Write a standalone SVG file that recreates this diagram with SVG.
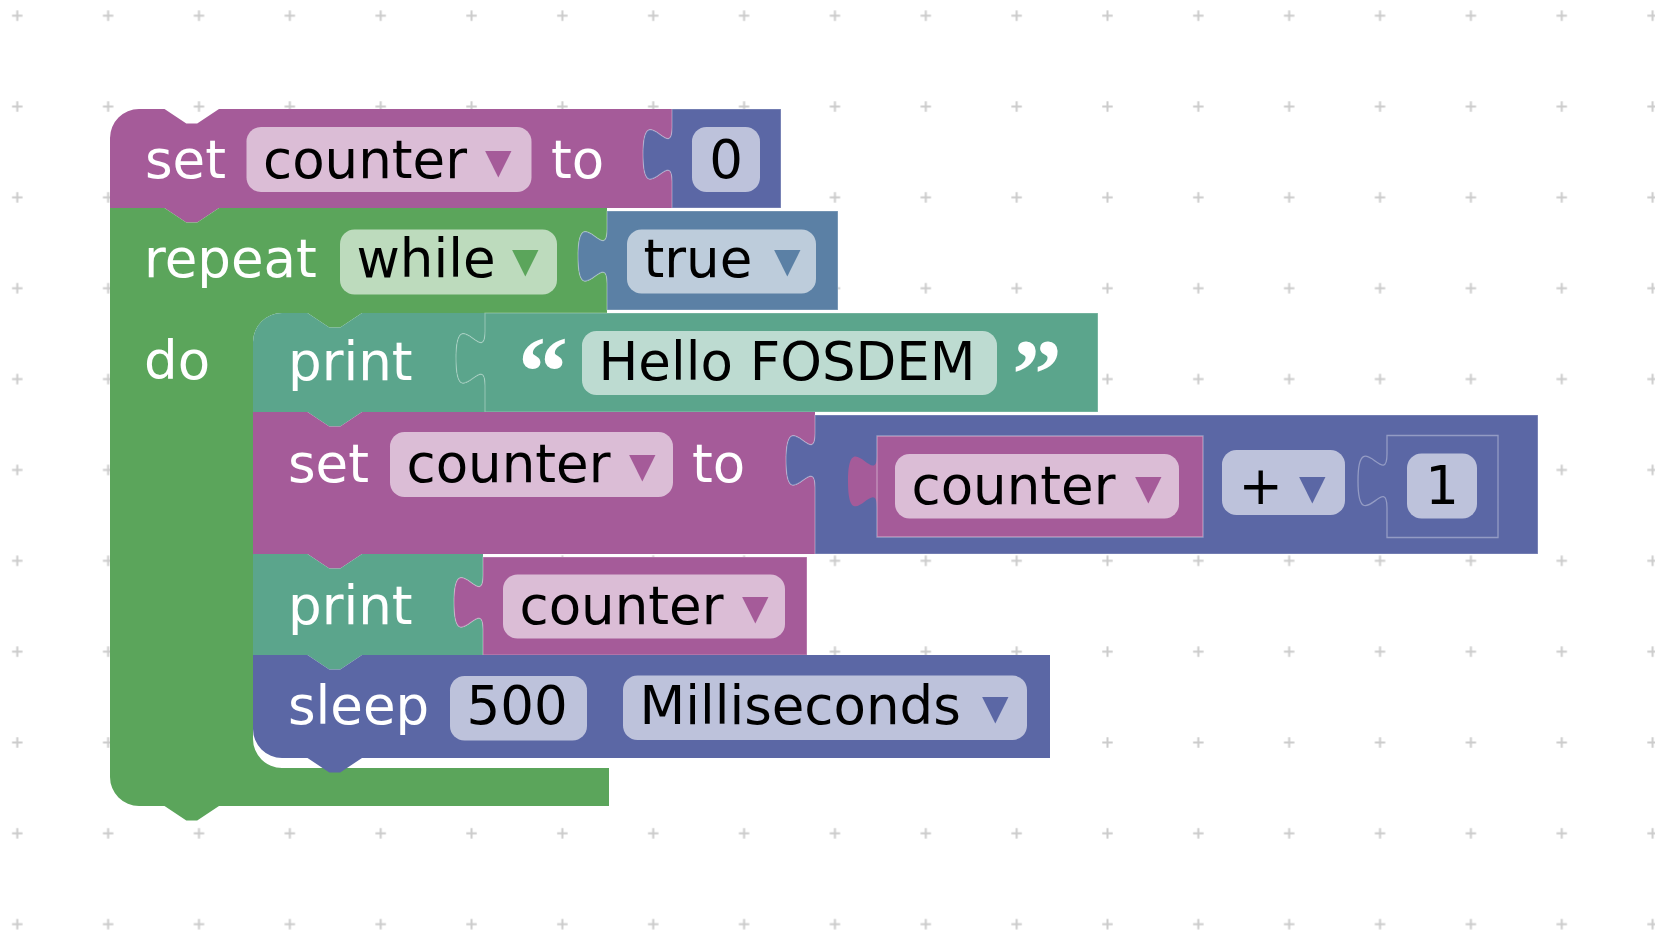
<svg xmlns="http://www.w3.org/2000/svg" width="1655" height="933" viewBox="0 0 1655 933">
  <defs>
    <!-- workspace grid: small crosses every 90.85px -->
    <pattern id="grid" patternUnits="userSpaceOnUse" x="-28.125" y="-29.725" width="90.85" height="90.85">
      <path d="M40.2,45.425 h10.45 M45.425,40.2 v10.45" stroke="#ccc" stroke-width="2" fill="none"/>
    </pattern>
    <style>
      .lbl { fill:#fff; font-family:"DejaVu Sans", sans-serif; font-size:53px; }
      .txt { fill:#000; font-family:"DejaVu Sans", sans-serif; font-size:53px; }
      .arw { font-family:"DejaVu Sans", sans-serif; font-size:53px; }
      .fbg { fill:#fff; fill-opacity:.6; }
      .quote { fill:#fff; font-family:"Liberation Serif", serif; font-weight:bold; font-size:100px; }
      .seam { stroke:#fff; stroke-opacity:.3; stroke-width:1.2; }
      .hole { fill:none; stroke:#fff; stroke-opacity:.35; stroke-width:1.3; }
      .var { fill:#a55b99; }
      .loop { fill:#5ba55b; }
      .logic { fill:#5b80a5; }
      .math { fill:#5b67a5; }
      .text { fill:#5ba58c; }
    </style>
  </defs>

  <rect width="1655" height="933" fill="#fff"/>
  <rect width="1655" height="933" fill="url(#grid)"/>

  <!-- set counter to 0 -->
  <g id="set-counter-init">
    <path class="var" d="M110,138 a29,29 0 0 1 29,-29 H164.5 l21.8,14.5 h10.9 l21.8,-14.5 H672 V127.2 c0,36.3 -29,-30.9 -29,27.2 s29,-9.1 29,27.2 V208 H219 l-21.8,14.5 h-10.9 l-21.8,-14.5 H110 Z"/>
    <text class="lbl" x="145" y="177.5">set</text>
    <rect class="fbg" x="246.5" y="127" width="285" height="65" rx="14.5"/>
    <text class="txt" x="263" y="177.5">counter</text>
    <text class="arw" x="485" y="177.5" fill="#a55b99">▾</text>
    <text class="lbl" x="551" y="177.5">to</text>
  </g>
  <g id="number-0">
    <path class="math seam" d="M672,109 H781 V208 H672 V181.6 c0,-36.3 -29,30.9 -29,-27.2 s29,9.1 29,-27.2 Z"/>
    <rect class="fbg" x="692" y="127" width="68" height="65" rx="14.5"/>
    <text class="txt" x="726" y="177.5" text-anchor="middle">0</text>
  </g>

  <!-- repeat while loop -->
  <g id="repeat-while">
    <path class="loop" d="M110,208 H164.5 l21.8,14.5 h10.9 l21.8,-14.5 H607 V229.2 c0,36.3 -29,-30.9 -29,27.2 s29,-9.1 29,27.2 V313 H362 l-21.8,14.5 h-10.9 l-21.8,-14.5 H282 a29,29 0 0 0 -29,29 V739 a29,29 0 0 0 29,29 H609 V806 H219 l-21.8,14.5 h-10.9 l-21.8,-14.5 H139 a29,29 0 0 1 -29,-29 Z"/>
    <text class="lbl" x="144" y="277">repeat</text>
    <rect class="fbg" x="340" y="229.5" width="217" height="65" rx="14.5"/>
    <text class="txt" x="356.5" y="277">while</text>
    <text class="arw" x="512" y="277" fill="#5ba55b">▾</text>
    <text class="lbl" x="144" y="379">do</text>
  </g>
  <g id="bool-true">
    <path class="logic seam" d="M607,211 H838 V310 H607 V283.6 c0,-36.3 -29,30.9 -29,-27.2 s29,9.1 29,-27.2 Z"/>
    <rect class="fbg" x="627" y="229.5" width="189" height="64" rx="14.5"/>
    <text class="txt" x="643.5" y="277">true</text>
    <text class="arw" x="774" y="277" fill="#5b80a5">▾</text>
  </g>

  <!-- print "Hello FOSDEM" -->
  <g id="print-hello">
    <path class="text" d="M253,342 a29,29 0 0 1 29,-29 H307.5 l21.8,14.5 h10.9 l21.8,-14.5 H485 V331.2 c0,36.3 -29,-30.9 -29,27.2 s29,-9.1 29,27.2 V412 H362 l-21.8,14.5 h-10.9 l-21.8,-14.5 H253 Z"/>
    <text class="lbl" x="288" y="380">print</text>
  </g>
  <g id="text-hello">
    <path class="text seam" d="M485,313 H1098 V412 H485 V385.6 c0,-36.3 -29,30.9 -29,-27.2 s29,9.1 29,-27.2 Z"/>
    <text class="quote" x="518" y="405">“</text>
    <rect class="fbg" x="582" y="331" width="415" height="64" rx="14.5"/>
    <text class="txt" x="598.5" y="380">Hello FOSDEM</text>
    <text class="quote" x="1012" y="407">”</text>
  </g>

  <!-- set counter to counter + 1 -->
  <g id="set-counter-inc">
    <path class="var" d="M253,412 H307.5 l21.8,14.5 h10.9 l21.8,-14.5 H815 V433.2 c0,36.3 -29,-30.9 -29,27.2 s29,-9.1 29,27.2 V554 H362 l-21.8,14.5 h-10.9 l-21.8,-14.5 H253 Z"/>
    <text class="lbl" x="288" y="481.5">set</text>
    <rect class="fbg" x="390" y="432" width="283" height="65" rx="14.5"/>
    <text class="txt" x="406.5" y="481.5">counter</text>
    <text class="arw" x="629" y="481.5" fill="#a55b99">▾</text>
    <text class="lbl" x="692" y="481.5">to</text>
  </g>
  <g id="arith-add">
    <path class="math seam" d="M815,415 H1538 V554 H815 V487.6 c0,-36.3 -29,30.9 -29,-27.2 s29,9.1 29,-27.2 Z"/>
    <rect class="fbg" x="1222" y="450" width="123" height="65" rx="14.5"/>
    <text class="txt" x="1238.5" y="503.5">+</text>
    <text class="arw" x="1299" y="503.5" fill="#5b67a5">▾</text>
  </g>
  <g id="get-counter-a">
    <path class="var" d="M877,436 H1203 V537 H877 V508.6 c0,-36.3 -29,30.9 -29,-27.2 s29,9.1 29,-27.2 Z"/>
    <rect class="fbg" x="895" y="454" width="284" height="64.5" rx="14.5"/>
    <text class="txt" x="911.5" y="503.5">counter</text>
    <text class="arw" x="1135" y="503.5" fill="#a55b99">▾</text>
    <path class="hole" d="M877,436 H1203 V537 H877 Z"/>
  </g>
  <g id="number-1">
    <path class="math" d="M1387,435.5 H1498 V537.5 H1387 V508.1 c0,-36.3 -29,30.9 -29,-27.2 s29,9.1 29,-27.2 Z"/>
    <rect class="fbg" x="1407" y="453.5" width="70" height="65" rx="14.5"/>
    <text class="txt" x="1442" y="503.5" text-anchor="middle">1</text>
    <path class="hole" d="M1387,435.5 H1498 V537.5 H1387 V508.1 c0,-36.3 -29,30.9 -29,-27.2 s29,9.1 29,-27.2 Z"/>
  </g>

  <!-- print counter -->
  <g id="print-counter">
    <path class="text" d="M253,554 H307.5 l21.8,14.5 h10.9 l21.8,-14.5 H483 V575.2 c0,36.3 -29,-30.9 -29,27.2 s29,-9.1 29,27.2 V655 H362 l-21.8,14.5 h-10.9 l-21.8,-14.5 H253 Z"/>
    <text class="lbl" x="288" y="624">print</text>
  </g>
  <g id="get-counter-b">
    <path class="var seam" d="M483,557 H807 V655 H483 V629.6 c0,-36.3 -29,30.9 -29,-27.2 s29,9.1 29,-27.2 Z"/>
    <rect class="fbg" x="503" y="574.5" width="282" height="64" rx="14.5"/>
    <text class="txt" x="519.5" y="624">counter</text>
    <text class="arw" x="742" y="624" fill="#a55b99">▾</text>
  </g>

  <!-- sleep 500 Milliseconds -->
  <g id="sleep">
    <path class="math" d="M253,655 H307.5 l21.8,14.5 h10.9 l21.8,-14.5 H1050 V758 H362 l-21.8,14.5 h-10.9 l-21.8,-14.5 H282 a29,29 0 0 1 -29,-29 Z"/>
    <text class="lbl" x="288" y="724">sleep</text>
    <rect class="fbg" x="450" y="676" width="137" height="64.5" rx="14.5"/>
    <text class="txt" x="466.5" y="724">500</text>
    <rect class="fbg" x="623" y="675.5" width="404" height="64.5" rx="14.5"/>
    <text class="txt" x="639.5" y="724">Milliseconds</text>
    <text class="arw" x="982" y="724" fill="#5b67a5">▾</text>
  </g>

  <!-- block connections are shown by the interlocking shapes themselves -->
  <g id="connectors"/>
</svg>
